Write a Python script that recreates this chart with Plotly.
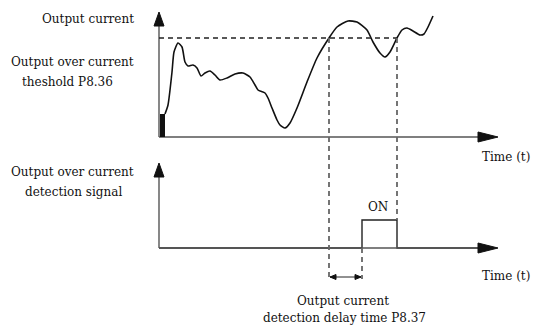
import plotly.graph_objects as go

# Timing diagram of output over-current detection (units: drawing coordinates)
W, H = 534, 326

# Output current waveform
t_curve = [165, 168, 172, 174, 178, 182, 185, 188, 193, 197, 201, 205, 210, 215, 220,
           227, 235, 243, 250, 255, 258, 265, 268, 272, 277, 280, 285, 290, 297, 307,
           317, 329, 337, 348, 357, 367, 373, 380, 385, 390, 397, 402, 407, 413, 420,
           424, 428, 433]
i_curve = [114, 105, 72, 52, 43, 47, 62, 66, 65, 68, 76, 73, 71, 75, 80,
           78, 74, 73, 77, 85, 90, 93, 98, 108, 120, 125, 128, 123, 108, 82,
           58, 38, 27, 21, 22, 30, 42, 53, 57, 52, 38, 30, 28, 31, 35,
           34, 27, 16]

# Key instants and levels
t_origin = 159
t_end = 478
threshold = 38
t_cross = 329       # current rises above threshold
t_on = 362          # detection signal turns ON after the delay
t_off = 397         # current back below threshold
upper_base = 137
lower_base = 248
pulse_top = 220

GRAY = "#555555"
FONT = "DejaVu Serif, serif"

fig = go.Figure()

# Current waveform
fig.add_trace(go.Scatter(x=t_curve, y=i_curve, mode="lines",
                         line=dict(color="#111111", width=1.6, shape="spline", smoothing=0.6),
                         hoverinfo="skip", showlegend=False))

# Detection signal pulse
sig_t = [t_origin, t_on, t_on, t_off, t_off, t_end]
sig_v = [lower_base, lower_base, pulse_top, pulse_top, lower_base, lower_base]
fig.add_trace(go.Scatter(x=sig_t, y=sig_v, mode="lines",
                         line=dict(color="#222222", width=1.4),
                         hoverinfo="skip", showlegend=False))

shapes = []

def line(x0, y0, x1, y1, color=GRAY, width=1.4, dash=None):
    shapes.append(dict(type="line", x0=x0, y0=y0, x1=x1, y1=y1, xref="x", yref="y",
                       line=dict(color=color, width=width, dash=dash)))

def tri(points):
    path = "M " + " L ".join(f"{x},{y}" for x, y in points) + " Z"
    shapes.append(dict(type="path", path=path, xref="x", yref="y",
                       fillcolor="#111111", line=dict(color="#111111", width=1)))

# Axes with arrowheads
for base, top in [(upper_base, 12), (lower_base, 163)]:
    line(t_origin, base, t_origin, top + 12)
    tri([(t_origin, top), (t_origin - 5, top + 14), (t_origin + 5, top + 14)])
    line(t_origin, base, t_end + 4, base)
    tri([(t_end + 20, base), (t_end, base - 5), (t_end, base + 5)])

# Start-up block at origin
shapes.append(dict(type="rect", x0=160, x1=165, y0=114, y1=upper_base, xref="x", yref="y",
                   fillcolor="#111111", line=dict(width=0)))

# Threshold and timing guides
dash = "5px,4px"
line(t_origin, threshold, t_off, threshold, color="#222222", width=1.4, dash=dash)
line(t_cross, threshold, t_cross, 279, color="#666666", width=1.8, dash=dash)
line(t_off, threshold, t_off, pulse_top, color="#666666", width=1.8, dash=dash)
line(t_on, lower_base, t_on, 279, color="#666666", width=1.8, dash=dash)

# Delay-time double arrow
line(t_cross + 1, 277, t_on - 1, 277, color="#222222", width=1)
tri([(t_cross + 1, 277), (t_cross + 7, 274.5), (t_cross + 7, 279.5)])
tri([(t_on - 1, 277), (t_on - 7, 274.5), (t_on - 7, 279.5)])

fig.update_layout(shapes=shapes)

texts = [
    (136, 19, "Output current", "right"),
    (72, 62, "Output over current", "center"),
    (67, 82, "theshold P8.36", "center"),
    (72, 172, "Output over current", "center"),
    (73, 192, "detection signal", "center"),
    (506, 157, "Time (t)", "center"),
    (506, 276, "Time (t)", "center"),
    (378, 207, "ON", "center"),
    (343, 301, "Output current", "center"),
    (344, 318, "detection delay time P8.37", "center"),
]
for x, y, s, al in texts:
    xanchor = "right" if al == "right" else "center"
    fig.add_annotation(x=x, y=y, text=s, showarrow=False, xref="x", yref="y",
                       xanchor=xanchor, yanchor="middle",
                       font=dict(family=FONT, size=12, color="#111111"))

fig.update_layout(
    width=W, height=H,
    margin=dict(l=0, r=0, t=0, b=0),
    paper_bgcolor="white", plot_bgcolor="white",
    xaxis=dict(range=[0, W], visible=False, fixedrange=True),
    yaxis=dict(range=[H, 0], visible=False, fixedrange=True),
    showlegend=False,
)

fig.write_html("out.html")
